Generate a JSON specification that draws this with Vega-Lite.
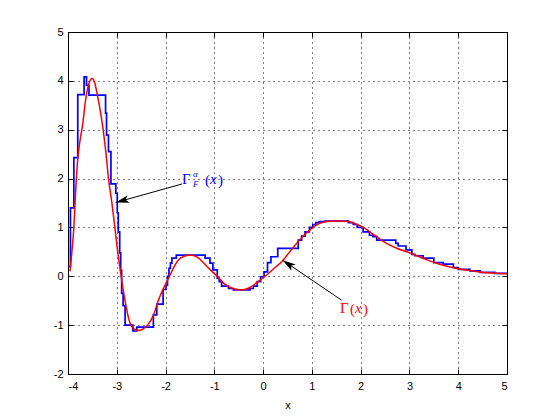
{
  "$schema": "https://vega.github.io/schema/vega-lite/v6.json",
  "width": 439,
  "height": 342,
  "autosize": {"type": "none"},
  "padding": {"left": 68, "top": 32, "right": 53, "bottom": 46},
  "background": "white",
  "config": {
    "view": {"stroke": null},
    "axis": {
      "labelFont": "Liberation Sans", "labelFontSize": 11, "labelColor": "black",
      "titleFont": "Liberation Sans", "titleFontSize": 11, "titleFontWeight": "normal", "titleColor": "black",
      "domainColor": "black", "domainWidth": 1, "tickColor": "black", "tickWidth": 1,
      "gridColor": "black", "gridDash": [1, 4], "gridOpacity": 1, "gridWidth": 1
    }
  },
  "datasets": {
    "blue": [
      {"x": -4.00, "y": 0.2}, {"x": -3.95, "y": 1.4}, {"x": -3.88, "y": 2.43}, {"x": -3.80, "y": 3.72},
      {"x": -3.67, "y": 4.08}, {"x": -3.62, "y": 3.91}, {"x": -3.57, "y": 3.71}, {"x": -3.23, "y": 3.34},
      {"x": -3.21, "y": 2.89}, {"x": -3.17, "y": 2.55}, {"x": -3.12, "y": 1.89}, {"x": -3.02, "y": 1.70},
      {"x": -2.99, "y": 1.30}, {"x": -2.97, "y": 0.91}, {"x": -2.94, "y": 0.48}, {"x": -2.92, "y": 0.12},
      {"x": -2.90, "y": -0.35}, {"x": -2.87, "y": -0.6}, {"x": -2.83, "y": -1.00}, {"x": -2.67, "y": -1.12},
      {"x": -2.59, "y": -1.04}, {"x": -2.25, "y": -0.79}, {"x": -2.18, "y": -0.57}, {"x": -2.05, "y": -0.27},
      {"x": -1.99, "y": -0.18}, {"x": -1.96, "y": 0.0}, {"x": -1.93, "y": 0.16}, {"x": -1.90, "y": 0.27},
      {"x": -1.87, "y": 0.37}, {"x": -1.78, "y": 0.435}, {"x": -1.19, "y": 0.37}, {"x": -1.09, "y": 0.27},
      {"x": -1.03, "y": 0.13}, {"x": -0.94, "y": -0.04}, {"x": -0.90, "y": -0.11}, {"x": -0.85, "y": -0.20},
      {"x": -0.71, "y": -0.25}, {"x": -0.61, "y": -0.28}, {"x": -0.27, "y": -0.25}, {"x": -0.20, "y": -0.20},
      {"x": -0.12, "y": -0.11}, {"x": -0.05, "y": -0.01}, {"x": 0.02, "y": 0.09}, {"x": 0.09, "y": 0.28},
      {"x": 0.16, "y": 0.40}, {"x": 0.30, "y": 0.57}, {"x": 0.72, "y": 0.74}, {"x": 0.79, "y": 0.82},
      {"x": 0.86, "y": 0.91}, {"x": 0.95, "y": 1.00}, {"x": 1.02, "y": 1.06}, {"x": 1.08, "y": 1.10},
      {"x": 1.15, "y": 1.12}, {"x": 1.27, "y": 1.13}, {"x": 1.75, "y": 1.10}, {"x": 1.85, "y": 1.06},
      {"x": 1.93, "y": 1.00}, {"x": 2.05, "y": 0.91}, {"x": 2.18, "y": 0.84}, {"x": 2.25, "y": 0.81},
      {"x": 2.33, "y": 0.74}, {"x": 2.72, "y": 0.675}, {"x": 2.77, "y": 0.62}, {"x": 2.93, "y": 0.54},
      {"x": 3.05, "y": 0.45}, {"x": 3.11, "y": 0.42}, {"x": 3.28, "y": 0.37}, {"x": 3.50, "y": 0.28},
      {"x": 3.69, "y": 0.25}, {"x": 3.90, "y": 0.18}, {"x": 4.00, "y": 0.14}, {"x": 4.24, "y": 0.11},
      {"x": 4.45, "y": 0.08}, {"x": 4.75, "y": 0.06}, {"x": 5.00, "y": 0.06}
    ],
    "red": [
      {"x": -3.96, "y": 0.1}, {"x": -3.92, "y": 0.5}, {"x": -3.88, "y": 1.0}, {"x": -3.84, "y": 1.8},
      {"x": -3.80, "y": 2.4}, {"x": -3.75, "y": 2.8}, {"x": -3.70, "y": 3.1}, {"x": -3.64, "y": 3.6},
      {"x": -3.57, "y": 3.95}, {"x": -3.50, "y": 4.05}, {"x": -3.45, "y": 3.95}, {"x": -3.40, "y": 3.72},
      {"x": -3.34, "y": 3.4}, {"x": -3.28, "y": 3.0}, {"x": -3.22, "y": 2.5}, {"x": -3.17, "y": 2.0},
      {"x": -3.10, "y": 1.5}, {"x": -3.04, "y": 1.0}, {"x": -2.98, "y": 0.5}, {"x": -2.91, "y": 0.0},
      {"x": -2.83, "y": -0.5}, {"x": -2.76, "y": -0.85}, {"x": -2.71, "y": -1.0}, {"x": -2.63, "y": -1.09},
      {"x": -2.54, "y": -1.11}, {"x": -2.45, "y": -1.07}, {"x": -2.37, "y": -1.0}, {"x": -2.25, "y": -0.8},
      {"x": -2.15, "y": -0.5}, {"x": -2.03, "y": -0.22}, {"x": -1.92, "y": 0.0}, {"x": -1.80, "y": 0.24},
      {"x": -1.68, "y": 0.38}, {"x": -1.50, "y": 0.435}, {"x": -1.35, "y": 0.39}, {"x": -1.20, "y": 0.25},
      {"x": -1.05, "y": 0.1}, {"x": -0.94, "y": 0.0}, {"x": -0.80, "y": -0.15}, {"x": -0.62, "y": -0.25},
      {"x": -0.44, "y": -0.28}, {"x": -0.27, "y": -0.23}, {"x": -0.12, "y": -0.12}, {"x": 0.04, "y": 0.0},
      {"x": 0.20, "y": 0.14}, {"x": 0.41, "y": 0.33}, {"x": 0.60, "y": 0.57}, {"x": 0.80, "y": 0.8},
      {"x": 0.96, "y": 0.95}, {"x": 1.15, "y": 1.08}, {"x": 1.30, "y": 1.12}, {"x": 1.50, "y": 1.13},
      {"x": 1.74, "y": 1.12}, {"x": 1.90, "y": 1.07}, {"x": 2.05, "y": 1.0}, {"x": 2.30, "y": 0.83},
      {"x": 2.53, "y": 0.675}, {"x": 2.75, "y": 0.57}, {"x": 3.01, "y": 0.48}, {"x": 3.30, "y": 0.36},
      {"x": 3.60, "y": 0.25}, {"x": 3.97, "y": 0.16}, {"x": 4.30, "y": 0.11}, {"x": 4.60, "y": 0.07},
      {"x": 5.00, "y": 0.05}
    ],
    "arrows": [
      {"arrow": "F", "x": -1.663, "y": 1.889, "tipx": -3.02, "tipy": 1.51},
      {"arrow": "G", "x": 1.61, "y": -0.49, "tipx": 0.40, "tipy": 0.33}
    ],
    "labels": [
      {"label": "F", "x": -1.663, "y": 1.889},
      {"label": "G", "x": 1.576, "y": -0.758}
    ]
  },
  "layer": [
    {
      "data": {"name": "blue"},
      "mark": {"type": "line", "interpolate": "step-after", "color": "#0000ff", "strokeWidth": 1.7},
      "encoding": {
        "x": {"field": "x", "type": "quantitative", "scale": {"domain": [-4, 5], "nice": false, "zero": false},
              "axis": {"orient": "top", "labels": false, "grid": false, "ticks": true, "tickSize": -5, "title": null, "values": [-4, -3, -2, -1, 0, 1, 2, 3, 4, 5]}},
        "y": {"field": "y", "type": "quantitative", "scale": {"domain": [-2, 5], "nice": false, "zero": false},
              "axis": {"orient": "right", "labels": false, "grid": false, "ticks": true, "tickSize": -5, "title": null, "values": [-2, -1, 0, 1, 2, 3, 4, 5]}}
      }
    },
    {
      "data": {"name": "red"},
      "mark": {"type": "line", "interpolate": "monotone", "color": "#ff0000", "strokeWidth": 1.5},
      "encoding": {
        "x": {"field": "x", "type": "quantitative",
              "axis": {"orient": "bottom", "grid": true, "ticks": true, "tickSize": -5, "labelPadding": 11, "title": "x", "titlePadding": 8, "values": [-4, -3, -2, -1, 0, 1, 2, 3, 4, 5], "labelExpr": "replace(datum.label, '−', '-')"}},
        "y": {"field": "y", "type": "quantitative",
              "axis": {"orient": "left", "grid": true, "ticks": true, "tickSize": -5, "labelPadding": 10, "title": null, "values": [-2, -1, 0, 1, 2, 3, 4, 5], "labelExpr": "replace(datum.label, '−', '-')"}}
      }
    },
    {
      "data": {"name": "arrows"},
      "mark": {"type": "rule", "color": "black", "strokeWidth": 1},
      "encoding": {
        "x": {"field": "x", "type": "quantitative", "axis": null},
        "y": {"field": "y", "type": "quantitative", "axis": null},
        "x2": {"field": "tipx"},
        "y2": {"field": "tipy"}
      }
    },
    {
      "data": {"name": "arrows"},
      "transform": [{"filter": "datum.arrow === 'F'"}],
      "mark": {"type": "point", "shape": "M0,0L-0.55,1.9L0,1.45L0.55,1.9Z", "filled": true, "color": "black", "opacity": 1, "size": 196, "angle": 254.6, "strokeWidth": 0},
      "encoding": {
        "x": {"field": "tipx", "type": "quantitative", "axis": null},
        "y": {"field": "tipy", "type": "quantitative", "axis": null}
      }
    },
    {
      "data": {"name": "arrows"},
      "transform": [{"filter": "datum.arrow === 'G'"}],
      "mark": {"type": "point", "shape": "M0,0L-0.55,1.9L0,1.45L0.55,1.9Z", "filled": true, "color": "black", "opacity": 1, "size": 196, "angle": 304.1, "strokeWidth": 0},
      "encoding": {
        "x": {"field": "tipx", "type": "quantitative", "axis": null},
        "y": {"field": "tipy", "type": "quantitative", "axis": null}
      }
    },
    {
      "data": {"name": "labels"},
      "transform": [{"filter": "datum.label === 'F'"}],
      "layer": [
        {"mark": {"type": "text", "text": "Γ", "font": "Liberation Serif", "fontSize": 15, "color": "#0000ff", "align": "left", "baseline": "alphabetic", "dx": 0}},
        {"mark": {"type": "text", "text": "α", "font": "Liberation Serif", "fontSize": 9, "fontStyle": "italic", "color": "#0000ff", "align": "left", "baseline": "alphabetic", "dx": 11, "dy": -7}},
        {"mark": {"type": "text", "text": "F", "font": "Liberation Serif", "fontSize": 9, "fontStyle": "italic", "color": "#0000ff", "align": "left", "baseline": "alphabetic", "dx": 11, "dy": 3}},
        {"mark": {"type": "text", "text": "(", "font": "Liberation Serif", "fontSize": 15, "color": "#0000ff", "align": "left", "baseline": "alphabetic", "dx": 23, "dy": 1}},
        {"mark": {"type": "text", "text": "x", "font": "Liberation Serif", "fontSize": 15, "fontStyle": "italic", "color": "#0000ff", "align": "left", "baseline": "alphabetic", "dx": 28}},
        {"mark": {"type": "text", "text": ")", "font": "Liberation Serif", "fontSize": 15, "color": "#0000ff", "align": "left", "baseline": "alphabetic", "dx": 36, "dy": 1}}
      ],
      "encoding": {
        "x": {"field": "x", "type": "quantitative", "axis": null},
        "y": {"field": "y", "type": "quantitative", "axis": null}
      }
    },
    {
      "data": {"name": "labels"},
      "transform": [{"filter": "datum.label === 'G'"}],
      "layer": [
        {"mark": {"type": "text", "text": "Γ", "font": "Liberation Serif", "fontSize": 15, "color": "#ff0000", "align": "left", "baseline": "alphabetic", "dx": 0}},
        {"mark": {"type": "text", "text": "(", "font": "Liberation Serif", "fontSize": 15, "color": "#ff0000", "align": "left", "baseline": "alphabetic", "dx": 10, "dy": 1}},
        {"mark": {"type": "text", "text": "x", "font": "Liberation Serif", "fontSize": 15, "fontStyle": "italic", "color": "#ff0000", "align": "left", "baseline": "alphabetic", "dx": 15}},
        {"mark": {"type": "text", "text": ")", "font": "Liberation Serif", "fontSize": 15, "color": "#ff0000", "align": "left", "baseline": "alphabetic", "dx": 23, "dy": 1}}
      ],
      "encoding": {
        "x": {"field": "x", "type": "quantitative", "axis": null},
        "y": {"field": "y", "type": "quantitative", "axis": null}
      }
    }
  ],
  "resolve": {"axis": {"x": "independent", "y": "independent"}}
}
